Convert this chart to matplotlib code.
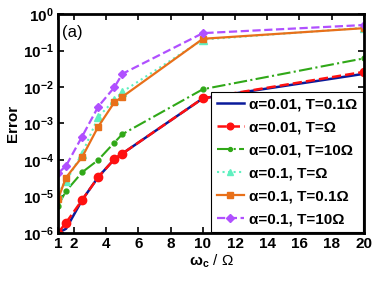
import numpy as np
import matplotlib
matplotlib.use('Agg')
from matplotlib import pyplot as plt

plt.rcParams['font.family'] = ['Liberation Sans', 'DejaVu Sans']
plt.rcParams['mathtext.fontset'] = 'custom'
plt.rcParams['mathtext.rm'] = 'Liberation Sans'
plt.rcParams['mathtext.bf'] = 'Liberation Sans:bold'
plt.rcParams['mathtext.it'] = 'Liberation Sans:italic'

# data
wc = [1, 1.5, 2.5, 3.5, 4.5, 5, 10, 20]
a001_T01 = [1.0e-6, 1.3e-6, 8.0e-6, 3.4e-5, 1.05e-4, 1.5e-4, 4.9e-3, 2.3e-2]
a001_T1 = [1.0e-6, 1.9e-6, 8.0e-6, 3.4e-5, 1.05e-4, 1.5e-4, 4.9e-3, 2.6e-2]
a001_T10 = [5.6e-6, 1.4e-5, 4.6e-5, 1.0e-4, 3.0e-4, 5.1e-4, 8.7e-3, 6.1e-2]
a01_T1 = [1.2e-5, 2.6e-5, 1.5e-4, 1.5e-3, 4.4e-3, 7.4e-3, 0.20, 0.42]
a01_T01 = [8.4e-6, 3.3e-5, 1.2e-4, 8.2e-4, 3.8e-3, 5.4e-3, 0.21, 0.41]
a01_T10 = [4.3e-5, 6.9e-5, 4.4e-4, 2.9e-3, 9.8e-3, 2.3e-2, 0.30, 0.50]

labels = ['α=0.01, T=0.1Ω', 'α=0.01, T=Ω', 'α=0.01, T=10Ω',
          'α=0.1, T=Ω', 'α=0.1, T=0.1Ω', 'α=0.1, T=10Ω']
xticks = [1, 2, 4, 6, 8, 10, 12, 14, 16, 18, 20]
yticks = [1e-6, 1e-5, 1e-4, 1e-3, 1e-2, 1e-1, 1e0]

fig = plt.figure(figsize=(3.74, 2.81), dpi=100)
ax = fig.add_axes([0.155, 0.171, 0.818, 0.779])

ax.plot(wc, a001_T01, '-', color='#0a1a9a', lw=1.8, label=labels[0])
ax.plot(wc, a001_T1, '--', color='#ff1010', lw=1.8, marker='o', ms=6, label=labels[1])
ax.plot(wc, a001_T10, '-.', color='#30a818', lw=1.5, marker='o', ms=3.5, label=labels[2])
ax.plot(wc, a01_T1, ':', color='#60f0c0', lw=1.5, marker='^', ms=5.5, label=labels[3])
ax.plot(wc, a01_T01, '-', color='#e8701a', lw=1.6, marker='s', ms=5, label=labels[4])
ax.plot(wc, a01_T10, '--', color='#b050ff', lw=1.6, marker='D', ms=4.5, label=labels[5])

ax.set_yscale('log')
ax.set_xlim(1, 20)
ax.set_ylim(1e-6, 1e0)
ax.set_xticks(xticks)
ax.set_xticklabels([str(t) for t in xticks], fontweight='bold', fontsize=11)
ax.set_yticks(yticks)
ax.set_yticklabels([r'$\mathbf{10^{%d}}$' % int(np.log10(t)) for t in yticks], fontsize=11)
ax.minorticks_off()
ax.tick_params(direction='in', top=True, right=True, width=1.2, length=4, pad=3)
for s in ax.spines.values():
    s.set_linewidth(2)

ax.set_ylabel('Error', fontweight='bold', fontsize=11, labelpad=2)
ax.set_xlabel(r'$\mathbf{\omega_c}$ / Ω', fontsize=11, labelpad=1)
ax.text(0.012, 0.95, '(a)', transform=ax.transAxes, fontsize=12, va='top')

leg = ax.legend(loc='lower right', handlelength=1.8, handletextpad=0.3, markerscale=0.8,
                borderpad=0.4, labelspacing=0.58, borderaxespad=0.05, fancybox=False,
                prop={'weight': 'bold', 'size': 11})
leg.get_frame().set_edgecolor('black')
leg.get_frame().set_linewidth(0.8)
leg.get_frame().set_alpha(1)

fig.savefig('out.png', dpi=100)
